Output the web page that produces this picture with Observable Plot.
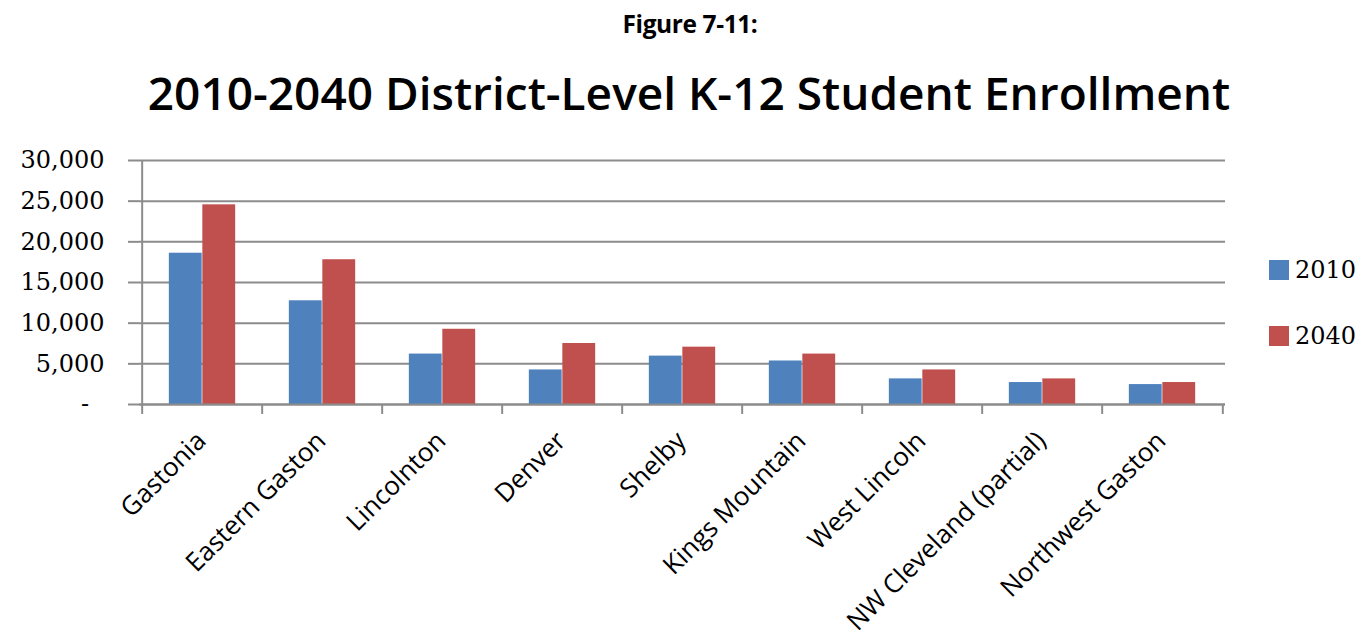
<!DOCTYPE html>
<html>
<head>
<meta charset="utf-8">
<script src="https://cdn.jsdelivr.net/npm/d3@7"></script>
<script src="https://cdn.jsdelivr.net/npm/@observablehq/plot@0.6"></script>
<style>
  html, body { margin: 0; padding: 0; background: #fff; }
  #wrap { position: relative; width: 1362px; height: 639px; overflow: hidden; }
  #fig { position: absolute; left: 9px; width: 1362px; top: 7px; text-align: center;
         font-family: "Open Sans", sans-serif; font-weight: 700; font-size: 24.5px; letter-spacing: -0.4px; color: #000; }
  #title { position: absolute; left: 8px; width: 1362px; top: 61px; text-align: center;
           font-family: "Open Sans", sans-serif; font-weight: 600; font-size: 46px; letter-spacing: 0px; color: #000; }
  #chart { position: absolute; left: 0; top: 140px; }
  .leg { position: absolute; left: 1269px; display: flex; align-items: center;
         font-family: "DejaVu Serif", serif; font-size: 24px; color: #000; }
  .sw { width: 20px; height: 20px; margin-right: 6px; }
</style>
</head>
<body>
<div id="wrap">
  <div id="fig">Figure 7-11:</div>
  <div id="title">2010-2040 District-Level K-12 Student Enrollment</div>
  <div id="chart"></div>
  <div id="legend"></div>
</div>
<script>
const districts = ["Gastonia", "Eastern Gaston", "Lincolnton", "Denver", "Shelby",
  "Kings Mountain", "West Lincoln", "NW Cleveland (partial)", "Northwest Gaston"];
const enroll2010 = [18600, 12750, 6200, 4250, 5950, 5350, 3150, 2700, 2450];
const enroll2040 = [24550, 17800, 9250, 7500, 7050, 6200, 4250, 3150, 2700];
const years = ["2010", "2040"];
const yearColors = ["#4f81bd", "#c0504d"];
const yTicks = [0, 5000, 10000, 15000, 20000, 25000, 30000];

const rows2010 = districts.map((d, i) => ({district: d, value: enroll2010[i]}));
const rows2040 = districts.map((d, i) => ({district: d, value: enroll2040[i]}));

const W = 1362, H = 499, mL = 139, mR = 137, mT = 20, mB = 235;
const step = (W - mL - mR) / districts.length;
const half = step / 2;
const barW = 33.5;
const outer = (step - 2 * barW) / 2;

const fmt = d => d === 0 ? "-\u2007" : d3.format(",")(d);

const chart = Plot.plot({
  width: W,
  height: H,
  marginLeft: mL,
  marginRight: mR,
  marginTop: mT,
  marginBottom: mB,
  style: {background: "#fff", color: "#000"},
  x: {domain: districts, padding: 0, label: null},
  y: {domain: [0, 30000], label: null},
  marks: [
    Plot.ruleY(yTicks, {stroke: "#8c8c8c", strokeWidth: 2}),
    Plot.barY(rows2010, {x: "district", y: "value", fill: yearColors[0], insetLeft: outer, insetRight: outer + barW}),
    Plot.barY(rows2040, {x: "district", y: "value", fill: yearColors[1], insetLeft: outer + barW, insetRight: outer}),
    Plot.ruleY([0], {stroke: "#8c8c8c", strokeWidth: 2}),
    Plot.ruleX([districts[0]], {dx: -half, y1: 0, y2: 30000, stroke: "#8c8c8c", strokeWidth: 2}),
    Plot.ruleX(districts, {dx: -half, y1: 0, y2: 0, insetBottom: -10, stroke: "#8c8c8c", strokeWidth: 2}),
    Plot.ruleX([districts[districts.length - 1]], {dx: half, y1: 0, y2: 0, insetBottom: -10, stroke: "#8c8c8c", strokeWidth: 2}),
    Plot.axisY({ticks: yTicks, tickFormat: fmt, tickSize: 11, tickPadding: 24, stroke: "#8c8c8c",
      strokeWidth: 2, fontSize: 24, fontFamily: "DejaVu Serif", fill: "#000"}),
    Plot.axisX({tickSize: 0, tickRotate: -45, tickPadding: 32, dx: -1, fontSize: 26,
      fontFamily: "Open Sans", fill: "#000"})
  ]
});
document.getElementById("chart").appendChild(chart);

const legend = document.getElementById("legend");
const legTops = [256, 322];
years.forEach((y, i) => {
  const div = document.createElement("div");
  div.className = "leg";
  div.style.top = legTops[i] + "px";
  div.innerHTML = `<div class="sw" style="background:${yearColors[i]}"></div><span>${y}</span>`;
  legend.appendChild(div);
});
</script>
</body>
</html>
